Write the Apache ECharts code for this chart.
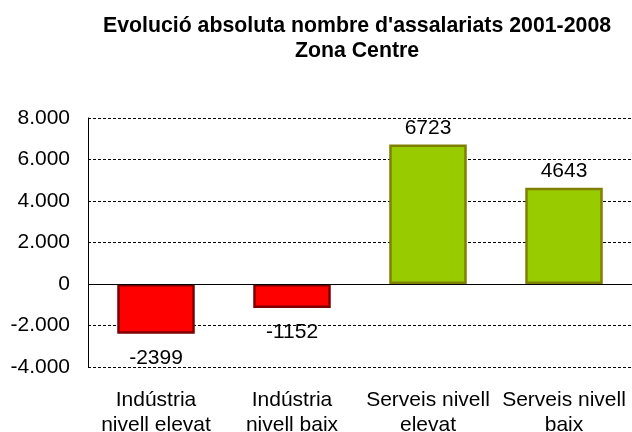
<!DOCTYPE html>
<html><head><meta charset="utf-8">
<script src="https://cdn.jsdelivr.net/npm/echarts@6/dist/echarts.min.js"></script>
<style>html,body{margin:0;padding:0;background:#fff}#c{width:632px;height:432px}</style>
</head><body><div id="c"></div>
<script>
var categories = ["Indústria\nnivell elevat", "Indústria\nnivell baix", "Serveis nivell\nelevat", "Serveis nivell\nbaix"];
var values = [-2399, -1152, 6723, 4643];
var yTicks = [-4000, -2000, 0, 2000, 4000, 6000, 8000];
var titleText = "Evolució absoluta nombre d'assalariats 2001-2008\nZona Centre";

var chart = echarts.init(document.getElementById('c'), null, {renderer: 'canvas'});
function fmt(v){ var s = Math.abs(v).toString(); s = s.replace(/\B(?=(\d{3})+(?!\d))/g, '.'); return (v<0?'-':'') + s; }
chart.setOption({
  animation: false,
  title: {
    text: titleText, left: 352, top: 9, textAlign: 'center',
    textStyle: {fontFamily: 'Liberation Sans', fontWeight: 'bold', fontSize: 21.3, color: '#000', lineHeight: 25}
  },
  grid: {left: 88, right: 0, top: 118, bottom: 65, containLabel: false, outerBoundsMode: 'none'},
  xAxis: {
    type: 'category', data: categories, position: 'bottom',
    axisLine: {show: false}, axisTick: {show: false},
    axisLabel: {fontFamily: 'Liberation Sans', fontSize: 21, color: '#000', lineHeight: 25, margin: 21, interval: 0}
  },
  yAxis: {
    type: 'value', min: yTicks[0], max: yTicks[yTicks.length-1], interval: 2000,
    axisLine: {show: true, lineStyle: {color: '#000', width: 1}},
    axisTick: {show: false},
    axisLabel: {fontFamily: 'Liberation Sans', fontSize: 21, color: '#000', margin: 18, formatter: fmt},
    splitLine: {show: true, lineStyle: {color: '#000', type: [3, 2], width: 1}}
  },
  series: [{
    type: 'bar', barWidth: '57%',
    data: values.map(function(v){
      var neg = v < 0;
      return {value: v,
        itemStyle: {color: neg ? '#FF0000' : '#99CC00', borderColor: neg ? '#800000' : '#808000', borderWidth: 2.5},
        label: {show: true, position: neg ? 'bottom' : 'top', distance: neg ? 14 : 6}};
    }),
    label: {fontFamily: 'Liberation Sans', fontSize: 21, color: '#000'},
    markLine: {silent: true, symbol: 'none', label: {show: false}, lineStyle: {color: '#000', type: 'solid', width: 1}, data: [{yAxis: 0}]}
  }]
});
</script></body></html>
